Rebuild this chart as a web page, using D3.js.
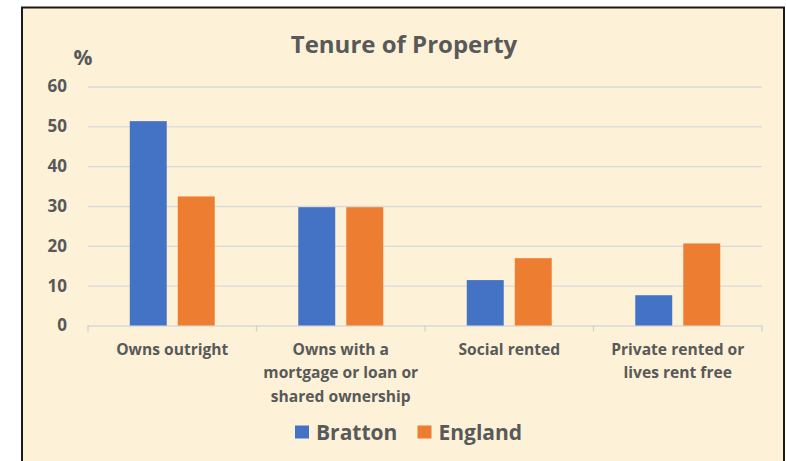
<!DOCTYPE html>
<html>
<head>
<meta charset="utf-8">
<script src="https://cdn.jsdelivr.net/npm/d3@7"></script>
<style>
  html, body { margin: 0; padding: 0; background: #ffffff; }
  svg { display: block; }
  text { font-family: "Open Sans", Lato, sans-serif; font-weight: bold; fill: #595959; }
</style>
</head>
<body>
<svg id="chart" width="787" height="461"></svg>
<script>
// ---- Data ----
const categories = [
  ["Owns outright"],
  ["Owns with a", "mortgage or loan or", "shared ownership"],
  ["Social rented"],
  ["Private rented or", "lives rent free"]
];
const categoryKeys = ["Owns outright", "Owns with a mortgage or loan or shared ownership", "Social rented", "Private rented or lives rent free"];
const seriesNames = ["Bratton", "England"];
const brattonValues = [51.3, 29.7, 11.4, 7.6];
const englandValues = [32.4, 29.7, 16.9, 20.6];
const yTicks = [0, 10, 20, 30, 40, 50, 60];
const colors = ["#4472C4", "#ED7D31"];

const svg = d3.select("#chart");

// frame
svg.append("rect")
  .attr("x", 22).attr("y", 7.5)
  .attr("width", 762).attr("height", 480)
  .attr("fill", "#FDF2D8")
  .attr("stroke", "#1a1a1a")
  .attr("stroke-width", 2);

const x0 = d3.scaleBand().domain(categoryKeys).range([88, 762]);
const x1 = d3.scaleBand().domain(seriesNames).range([0, x0.bandwidth()])
  .paddingInner(0.23).paddingOuter(0.87);
const y = d3.scaleLinear().domain([0, 60]).range([325.5, 86.5]);

// y axis + gridlines
const yAxis = d3.axisLeft(y).tickValues(yTicks).tickSize(-(762 - 88)).tickPadding(21);
const gy = svg.append("g").attr("transform", "translate(88,0)").call(yAxis);
gy.select(".domain").remove();
gy.selectAll(".tick line").attr("stroke", "#D9D9D9").attr("stroke-width", 1.3);
gy.selectAll(".tick text")
  .style("font-size", "17px").style("font-family", "'Open Sans', sans-serif")
  .style("font-weight", "bold").attr("fill", "#595959");

// x axis line ticks at band boundaries
const boundaries = categoryKeys.map(c => x0(c)).concat([x0.range()[1]]);
svg.append("g").selectAll("line").data(boundaries).join("line")
  .attr("x1", d => d).attr("x2", d => d)
  .attr("y1", y(0)).attr("y2", y(0) + 6)
  .attr("stroke", "#D0D0D0").attr("stroke-width", 1.3);

// bars
const data = categoryKeys.map((c, i) => ({ key: c, values: [brattonValues[i], englandValues[i]] }));
const groups = svg.append("g").selectAll("g").data(data).join("g")
  .attr("transform", d => `translate(${x0(d.key)},0)`);
groups.selectAll("rect").data(d => d.values.map((v, j) => ({ s: seriesNames[j], v, j })))
  .join("rect")
  .attr("x", d => x1(d.s))
  .attr("width", x1.bandwidth())
  .attr("y", d => y(d.v))
  .attr("height", d => y(0) - y(d.v))
  .attr("fill", d => colors[d.j]);

// category labels
const labG = svg.append("g");
categories.forEach((lines, i) => {
  const cx = x0(categoryKeys[i]) + x0.bandwidth() / 2;
  const t = labG.append("text")
    .attr("x", cx).attr("y", 355)
    .attr("text-anchor", "middle")
    .style("font-size", "15.6px");
  lines.forEach((ln, k) => {
    t.append("tspan").attr("x", cx).attr("dy", k === 0 ? 0 : 23.3).text(ln);
  });
});

// title
svg.append("text")
  .attr("x", 404).attr("y", 53)
  .attr("text-anchor", "middle")
  .style("font-size", "24px")
  .text("Tenure of Property");

// % label
svg.append("text")
  .attr("x", 83).attr("y", 65)
  .attr("text-anchor", "middle")
  .style("font-size", "21px")
  .text("%");

// legend
const legend = svg.append("g");
const legendX = [295, 417.5];
seriesNames.forEach((s, i) => {
  legend.append("rect")
    .attr("x", legendX[i]).attr("y", 425.5)
    .attr("width", 14).attr("height", 13)
    .attr("fill", colors[i]);
  legend.append("text")
    .attr("x", legendX[i] + 21).attr("y", 440)
    .style("font-size", "21px")
    .text(s);
});
</script>
</body>
</html>
